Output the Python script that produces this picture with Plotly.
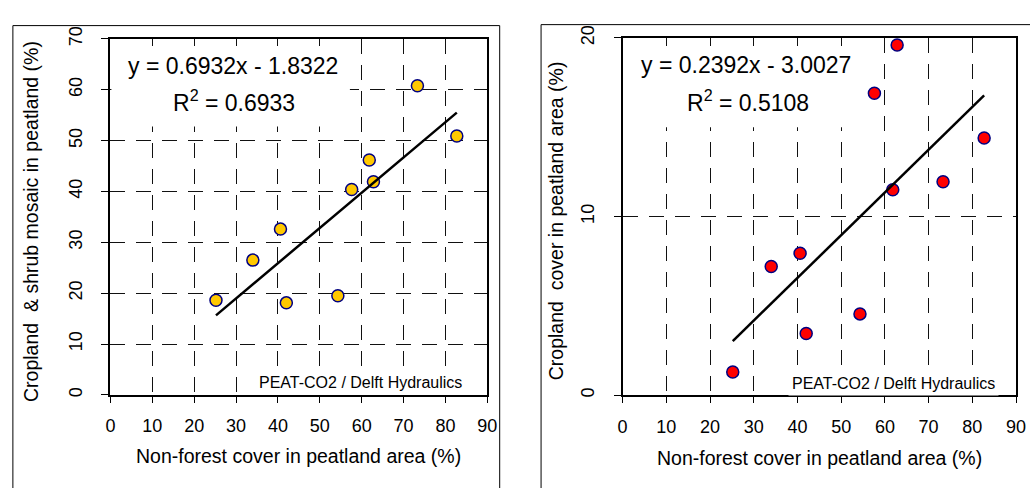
import plotly.graph_objects as go

# ---- data ----
nonforest_pct = [25.2, 34.0, 40.6, 42.0, 54.3, 57.6, 61.8, 62.8, 73.3, 82.7]
crop_shrub_pct = [18.6, 26.5, 32.6, 18.1, 19.5, 40.4, 46.2, 41.9, 60.8, 50.9]
cropland_pct = [1.3, 7.2, 7.95, 3.45, 4.55, 16.9, 11.5, 19.6, 11.95, 14.4]

fit_left = {"slope": 0.6932, "intercept": -1.8322, "r2": 0.6933}
fit_right = {"slope": 0.2392, "intercept": -3.0027, "r2": 0.5108}

x_ticks = [0, 10, 20, 30, 40, 50, 60, 70, 80, 90]
y_ticks_left = [0, 10, 20, 30, 40, 50, 60, 70]
y_ticks_right = [0, 10, 20]

x_title = "Non-forest cover in peatland area (%)"
y_title_left = "Cropland  &amp; shrub mosaic in peatland (%)"
y_title_right = "Cropland  cover in peatland area (%)"
credit = "PEAT-CO2 / Delft Hydraulics"

W, H = 1030, 488
FONT = "Arial, Liberation Sans, sans-serif"


def px(x):
    return x / W


def py(y):
    return (H - y) / H


def trend(fit):
    xs = [min(nonforest_pct), max(nonforest_pct)]
    return xs, [fit["slope"] * v + fit["intercept"] for v in xs]


fig = go.Figure()

fig.add_trace(go.Scatter(
    x=nonforest_pct, y=crop_shrub_pct, mode="markers", xaxis="x", yaxis="y",
    marker=dict(size=12, color="#FFC800", line=dict(color="#000080", width=1.5)),
    showlegend=False))
tx, ty = trend(fit_left)
fig.add_trace(go.Scatter(x=tx, y=ty, mode="lines", xaxis="x", yaxis="y",
                         line=dict(color="black", width=2.5), showlegend=False))

fig.add_trace(go.Scatter(
    x=nonforest_pct, y=cropland_pct, mode="markers", xaxis="x2", yaxis="y2",
    marker=dict(size=12, color="#FF0000", line=dict(color="#000080", width=1.5)),
    showlegend=False))
tx, ty = trend(fit_right)
fig.add_trace(go.Scatter(x=tx, y=ty, mode="lines", xaxis="x2", yaxis="y2",
                         line=dict(color="black", width=2.5), showlegend=False))

tickfont = dict(family=FONT, size=18, color="black")
common_x = dict(range=[0, 90], tickvals=x_ticks, ticks="outside", ticklen=6,
                tickwidth=1, tickcolor="black", showline=True, linecolor="black",
                linewidth=2, mirror=True, showgrid=True, gridcolor="#111",
                gridwidth=1, griddash="15px,11px", zeroline=False, tickfont=tickfont,
                ticklabelstandoff=8, fixedrange=True)
common_y = dict(ticks="outside", ticklen=7, tickwidth=1, tickcolor="black",
                showline=True, linecolor="black", linewidth=2, mirror=True,
                showgrid=True, gridcolor="#111", gridwidth=1, griddash="15px,11px",
                zeroline=False, tickfont=tickfont, tickangle=-90,
                ticklabelstandoff=12, fixedrange=True)

fig.update_layout(
    width=W, height=H, margin=dict(l=0, r=0, t=0, b=0),
    paper_bgcolor="white", plot_bgcolor="white",
    xaxis=dict(domain=[px(107), px(489.5)], anchor="y", **common_x),
    yaxis=dict(domain=[py(394), py(26.7)], anchor="x", range=[0, 70],
               tickvals=y_ticks_left, **common_y),
    xaxis2=dict(domain=[px(626.7), px(1026)], anchor="y2", **common_x),
    yaxis2=dict(domain=[py(394.3), py(25.7)], anchor="x2", range=[0, 20],
                tickvals=y_ticks_right, **common_y),
)

shapes = [
    # outer chart borders
    dict(type="rect", xref="paper", yref="paper", x0=px(8), x1=px(502),
         y0=-0.1, y1=py(13), line=dict(color="black", width=1), fillcolor="rgba(0,0,0,0)"),
    dict(type="rect", xref="paper", yref="paper", x0=px(544), x1=1.1,
         y0=-0.1, y1=py(12), line=dict(color="black", width=1), fillcolor="rgba(0,0,0,0)"),
    # white fill of the equation text boxes (hides the gridlines behind them)
    dict(type="rect", xref="paper", yref="paper", layer="above",
         x0=px(108), x1=px(350), y0=py(117), y1=py(34),
         line=dict(width=0), fillcolor="white"),
    dict(type="rect", xref="paper", yref="paper", layer="above",
         x0=px(628), x1=px(872), y0=py(118), y1=py(34),
         line=dict(width=0), fillcolor="white"),
]
fig.update_layout(shapes=shapes)

eqfont = dict(family=FONT, size=23, color="black")
titlefont = dict(family=FONT, size=19.5, color="black")
annots = []
for fit, cx1, cy1, cx2, cy2 in [(fit_left, 231, 55, 232, 91),
                                (fit_right, 751.5, 53.5, 753.5, 91)]:
    sign = "-" if fit["intercept"] < 0 else "+"
    annots.append(dict(xref="paper", yref="paper", x=px(cx1), y=py(cy1),
                       xanchor="center", yanchor="middle", showarrow=False,
                       text=f"y = {fit['slope']:.4f}x {sign} {abs(fit['intercept']):.4f}",
                       font=eqfont))
    annots.append(dict(xref="paper", yref="paper", x=px(cx2), y=py(cy2),
                       xanchor="center", yanchor="middle", showarrow=False,
                       text=f"R<sup>2</sup> = {fit['r2']:.4f}", font=eqfont))

for cx, cy in [(360.5, 381), (901.5, 382)]:
    annots.append(dict(xref="paper", yref="paper", x=px(cx), y=py(cy),
                       xanchor="center", yanchor="middle", showarrow=False,
                       text=credit, bgcolor="white", borderpad=3,
                       font=dict(family=FONT, size=16, color="black")))

for cx, cy in [(298, 457), (826.5, 459)]:
    annots.append(dict(xref="paper", yref="paper", x=px(cx), y=py(cy),
                       xanchor="center", yanchor="middle", showarrow=False,
                       text=x_title, font=titlefont))

annots.append(dict(xref="paper", yref="paper", x=px(27), y=py(215),
                   xanchor="center", yanchor="middle", showarrow=False,
                   text=y_title_left, textangle=-90, font=titlefont))
annots.append(dict(xref="paper", yref="paper", x=px(560), y=py(214),
                   xanchor="center", yanchor="middle", showarrow=False,
                   text=y_title_right, textangle=-90, font=titlefont))
fig.update_layout(annotations=annots)

# remove the default 8px page margin so the 1030x488 figure fills the window
post = (
    "document.body.style.margin='0';"
    "document.body.style.overflow='hidden';"
)
fig.write_html("out.html", config={"displayModeBar": False}, post_script=post)
